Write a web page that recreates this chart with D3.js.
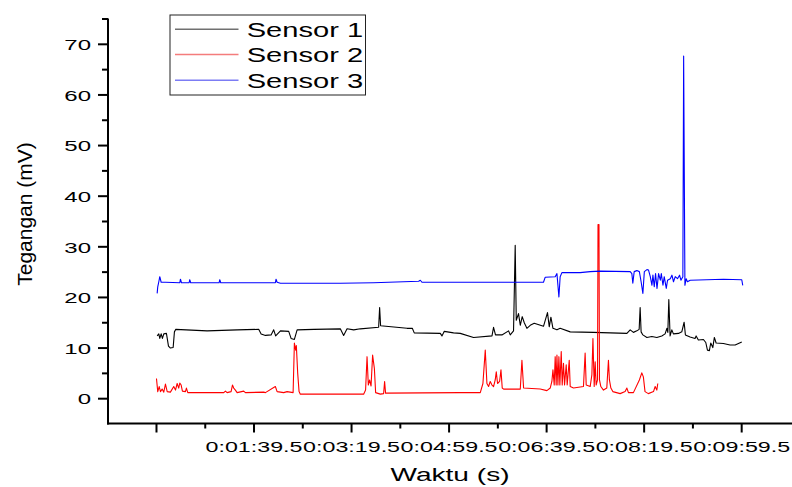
<!DOCTYPE html>
<html><head><meta charset="utf-8">
<script src="https://cdn.jsdelivr.net/npm/d3@7"></script>
<style>body{margin:0;background:#fff}svg{display:block}text{font-family:"Liberation Sans",Arial,sans-serif;fill:#000}</style>
</head><body><svg id="c" width="792" height="487"></svg>
<script>
// ---- data: [time (s), voltage (mV)] ----
const sensor1 = [[0.7,12.3],[2.4,12.7],[3.4,11.8],[4.8,12.7],[6.1,11.8],[7.5,12.7],[10.2,12.8],[12.3,10.3],[14.3,9.9],[17.1,10.0],[18.4,13.1],[19.8,13.6],[51.9,13.3],[82.7,13.5],[104.8,13.6],[107.3,12.7],[111.7,12.4],[117.5,12.5],[120.2,13.5],[122.2,12.3],[127.1,13.3],[135.6,13.2],[138.0,11.8],[141.4,11.6],[144.2,13.5],[161.2,13.6],[188.5,13.7],[191.9,12.4],[195.4,13.7],[202.2,13.5],[209.0,13.7],[227.8,14.0],[228.8,17.9],[229.8,14.3],[256.9,13.8],[262.3,13.8],[264.3,12.9],[291.0,12.8],[292.7,12.3],[295.1,13.2],[304.6,12.9],[311.5,12.8],[325.1,12.0],[344.0,12.3],[345.6,14.0],[347.6,12.5],[354.2,12.5],[361.0,13.3],[362.7,12.5],[366.1,13.3],[367.8,30.2],[368.9,15.4],[371.2,16.7],[373.0,14.4],[375.0,16.1],[377.1,14.9],[379.8,13.8],[383.2,14.4],[387.3,14.8],[396.8,14.2],[400.9,16.9],[402.7,14.1],[404.4,16.0],[406.5,13.8],[410.6,13.5],[413.9,13.8],[424.2,13.1],[448.1,13.0],[482.3,12.8],[485.7,13.5],[489.0,13.0],[492.5,13.3],[494.9,13.6],[495.9,17.9],[496.9,13.1],[498.7,12.5],[502.8,12.0],[507.9,12.2],[513.0,12.0],[518.1,12.3],[521.5,12.7],[523.3,13.8],[524.3,13.0],[525.3,19.5],[526.6,12.3],[528.4,13.5],[530.0,12.7],[535.2,12.8],[538.6,13.1],[541.0,15.0],[542.3,12.5],[547.1,12.1],[552.2,11.8],[553.3,12.3],[555.6,11.5],[560.8,11.6],[563.2,11.0],[564.9,9.5],[566.9,9.4],[568.3,10.9],[570.4,10.0],[572.0,12.0],[573.8,10.9],[581.3,10.8],[588.1,10.5],[593.3,10.5],[600.1,11.1]];

const sensor2 = [[0,3.9],[1.3,1.3],[2.8,2.3],[4.1,1.3],[5.8,1.8],[7.5,1.2],[9.2,2.8],[11.0,1.3],[14.3,1.2],[17.7,2.3],[19.5,1.6],[21.2,2.9],[22.8,2.0],[23.9,3.0],[25.3,2.6],[26.6,1.4],[29.7,1.3],[30.7,2.0],[32.1,1.1],[69.0,1.1],[70.7,1.4],[72.4,1.1],[76.5,1.3],[77.9,2.6],[79.2,2.0],[80.9,1.6],[82.7,1.1],[89.4,1.4],[91.2,1.1],[109.9,1.2],[111.7,1.1],[120.2,2.1],[121.9,2.3],[123.7,1.3],[127.1,1.2],[130.4,1.1],[133.9,1.3],[140.1,1.1],[141.4,10.9],[142.7,9.5],[143.4,10.4],[144.8,4.9],[146.2,1.3],[147.5,0.8],[212.4,0.8],[214.4,1.6],[215.9,8.2],[217.2,2.6],[218.5,3.6],[220.0,2.4],[221.6,8.5],[223.4,5.9],[224.7,1.1],[229.5,0.8],[232.9,0.9],[233.9,3.3],[234.9,1.0],[311.5,1.1],[332.0,1.1],[334.7,2.9],[337.1,9.5],[338.8,2.9],[340.5,2.3],[342.2,3.3],[344.0,2.6],[345.6,2.3],[347.3,3.6],[348.4,5.2],[349.7,2.9],[351.8,3.3],[353.2,5.6],[354.5,2.0],[355.9,1.8],[373.0,1.8],[374.7,7.5],[376.4,2.0],[393.4,1.8],[400.3,1.5],[403.7,2.0],[405.4,3.3],[406.5,5.6],[407.8,2.6],[408.8,8.2],[409.8,2.6],[410.6,8.5],[411.6,2.6],[412.6,8.2],[413.6,2.6],[415.0,9.2],[416.0,2.6],[417.3,6.9],[418.4,2.6],[420.1,6.6],[421.1,2.6],[423.2,7.5],[424.2,2.3],[427.6,2.0],[437.8,2.3],[439.5,8.9],[440.6,2.6],[444.7,2.3],[446.4,4.6],[447.5,11.8],[448.8,2.3],[449.8,7.2],[450.8,2.6],[452.2,3.6],[452.7,34.3],[453.7,34.3],[454.2,3.6],[455.6,2.3],[458.3,1.6],[461.7,2.0],[463.4,7.5],[464.4,3.6],[465.9,2.0],[467.9,1.3],[475.4,0.9],[480.5,1.3],[482.3,2.0],[483.9,1.1],[489.0,1.1],[495.1,3.6],[497.6,5.0],[499.2,4.2],[500.9,1.3],[504.3,0.9],[509.6,1.3],[511.3,2.3],[513.0,1.6],[514.0,2.9]];

const sensor3 = [[0.7,20.7],[1.3,22.0],[2.4,23.0],[3.4,24.0],[4.8,22.9],[9.2,22.9],[23.9,22.8],[24.6,23.5],[25.6,22.8],[33.5,22.8],[34.1,23.4],[35.1,22.8],[64.2,22.8],[64.9,23.4],[65.9,22.8],[121.9,22.8],[122.6,23.5],[123.7,22.9],[127.1,22.7],[188.5,22.7],[222.6,22.8],[268.8,23.1],[270.5,23.3],[272.2,22.9],[311.5,22.9],[321.7,22.9],[396.8,22.9],[398.6,23.9],[408.8,24.0],[410.6,24.6],[411.6,22.3],[412.6,20.0],[413.9,24.0],[415.7,24.8],[434.4,24.8],[444.7,25.0],[454.9,25.1],[485.7,25.0],[487.4,24.6],[488.4,22.7],[489.8,25.0],[492.5,25.2],[495.1,25.0],[496.9,23.0],[498.7,20.7],[500.2,25.0],[502.9,25.4],[504.5,25.3],[506.3,24.0],[508.0,22.3],[509.0,24.3],[510.4,22.0],[511.7,24.6],[513.2,21.7],[514.8,24.6],[516.6,23.3],[517.6,24.6],[519.3,22.3],[520.6,24.0],[522.7,21.7],[524.0,23.3],[526.8,23.6],[528.5,24.3],[530.1,23.0],[531.9,24.0],[534.2,23.6],[536.3,24.3],[537.7,23.3],[539.7,24.0],[540.5,67.6],[541.8,22.3],[543.1,23.6],[544.4,23.0],[547.2,23.3],[564.2,23.4],[581.3,23.5],[600.1,23.4],[601.1,22.3]];

const seriesNames = ["Sensor 1", "Sensor 2", "Sensor 3"];
const seriesColors = ["#000000", "#ff0000", "#0000ff"];
const legendColors = ["#707070", "#f47c7c", "#7c7cf4"];

const xMajorTicks = [-0.5, 99.5, 199.5, 299.5, 399.5, 499.5, 599.5];
const xTickLabels = ["", "0:01:39.5", "0:03:19.5", "0:04:59.5", "0:06:39.5", "0:08:19.5", "0:09:59.5"];
const xMinorTicks = [49.5, 149.5, 249.5, 349.5, 449.5, 549.5];
const yMajorTicks = [0, 10, 20, 30, 40, 50, 60, 70];
const yMinorTicks = [5, 15, 25, 35, 45, 55, 65, 75];

const xTitle = "Waktu (s)";
const yTitle = "Tegangan (mV)";

// ---- drawing ----
const svg = d3.select("#c");
const x = d3.scaleLinear().domain([-49.7, 651.6]).range([108, 792]);
const y = d3.scaleLinear().domain([-5, 75]).range([423.5, 18.5]);

const line = d3.line().x(d => x(d[0])).y(d => y(d[1]));
[sensor1, sensor2, sensor3].forEach((data, i) => {
  svg.append("path").attr("d", line(data)).attr("fill", "none")
    .attr("stroke", seriesColors[i]).attr("stroke-width", 1.1)
    .attr("stroke-linejoin", "round");
});

// Y axis
const gyMin = svg.append("g").attr("transform", "translate(108,0)")
  .call(d3.axisLeft(y).tickValues(yMinorTicks).tickSize(6).tickSizeOuter(0).tickFormat(""));
gyMin.select(".domain").remove();
const gy = svg.append("g").attr("transform", "translate(108,0)")
  .call(d3.axisLeft(y).tickValues(yMajorTicks).tickSize(10).tickSizeOuter(0).tickFormat(d3.format("d")));
gy.select(".domain").remove();
svg.selectAll(".tick line").attr("stroke", "#000").attr("stroke-width", 2);
gy.selectAll(".tick text").attr("x", 0).attr("dy", "0.37em")
  .attr("font-size", 15.5).attr("text-anchor", "end")
  .attr("transform", "translate(-17,0) scale(1.55,1)");

// X axis
const gxMin = svg.append("g").attr("transform", "translate(0,423.5)")
  .call(d3.axisBottom(x).tickValues(xMinorTicks).tickSize(5).tickSizeOuter(0).tickFormat(""));
gxMin.select(".domain").remove();
const gx = svg.append("g").attr("transform", "translate(0,423.5)")
  .call(d3.axisBottom(x).tickValues(xMajorTicks).tickSize(9).tickSizeOuter(0)
    .tickFormat((d, i) => xTickLabels[i]));
gx.select(".domain").remove();
svg.selectAll(".tick line").attr("stroke", "#000").attr("stroke-width", 2);
gx.selectAll(".tick text").attr("y", 0).attr("dy", 0)
  .attr("font-size", 15.5).attr("text-anchor", "middle")
  .attr("transform", "translate(0,28) scale(1.5,1)");

// axis lines
svg.append("line").attr("x1", 108).attr("x2", 108).attr("y1", y(75)).attr("y2", y(-5) + 1)
  .attr("stroke", "#000").attr("stroke-width", 2);
svg.append("line").attr("x1", 107).attr("x2", 792).attr("y1", y(-5)).attr("y2", y(-5))
  .attr("stroke", "#000").attr("stroke-width", 2);

// titles
svg.append("text").attr("transform", "translate(450,481) scale(1.56,1)")
  .attr("text-anchor", "middle").attr("font-size", 18).text(xTitle);
svg.append("text").attr("transform", "translate(31.5,214) rotate(-90)")
  .attr("text-anchor", "middle").attr("font-size", 21).text(yTitle);

// legend
const lg = svg.append("g");
lg.append("rect").attr("x", 170).attr("y", 15).attr("width", 195.5).attr("height", 80)
  .attr("fill", "#fff").attr("stroke", "#222").attr("stroke-width", 1);
const rowY = [29.3, 54.5, 80.3];
seriesNames.forEach((name, i) => {
  lg.append("line").attr("x1", 175).attr("x2", 238.5).attr("y1", rowY[i]).attr("y2", rowY[i])
    .attr("stroke", legendColors[i]).attr("stroke-width", 1.5);
  lg.append("text").attr("transform", `translate(246.7,${rowY[i] + 7.4}) scale(1.42,1)`)
    .attr("font-size", 20.5).text(name);
});
</script></body></html>
